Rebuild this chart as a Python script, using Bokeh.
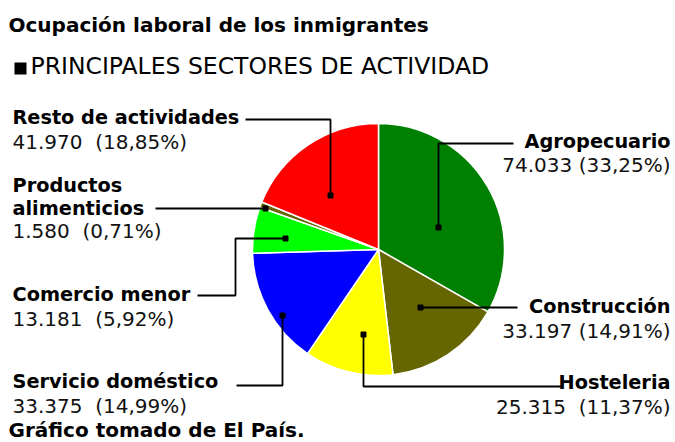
import math
from bokeh.plotting import figure
from bokeh.models import Range1d, ColumnDataSource
from bokeh.core.properties import value
from bokeh.embed import file_html
from bokeh.resources import INLINE

# ---------------- data ----------------
sectors = ["Agropecuario", "Construcción", "Hosteleria", "Servicio doméstico",
           "Comercio menor", "Productos alimenticios", "Resto de actividades"]
workers = [74033, 33197, 25315, 33375, 13181, 1580, 41970]
colors = ["#008000", "#666600", "#FFFF00", "#0000FF", "#00FF00", "#666600", "#FF0000"]

title = "Ocupación laboral de los inmigrantes"
subtitle = "PRINCIPALES SECTORES DE ACTIVIDAD"
source_note = "Gráfico tomado de El País."

# ---------------- layout ----------------
W, H = 675, 442
CX, CY, R = 378, 249, 126
FONT = value("DejaVu Sans")
SHIFT = 8  # svg text baseline compensation


def Y(y):
    return H - y


def TY(y):
    return H - (y - SHIFT)


total = sum(workers)
shares = [w / total for w in workers]
starts, ends = [], []
cum = 0.0
for s in shares:
    starts.append(math.pi / 2 - cum * 2 * math.pi)
    cum += s
    ends.append(math.pi / 2 - cum * 2 * math.pi)


def fmt_num(n):
    return f"{n:,}".replace(",", ".")


def fmt_pct(s):
    return f"{s * 100:.2f}".replace(".", ",") + "%"


NB = "\u00a0"
# label layout: name lines, x, name baselines, align, number baseline, gap, leader path
label_layout = [
    (["Agropecuario"], 670, [149], "right", 172, NB,
     [(513, 143), (438, 143), (438, 227)]),
    (["Construcción"], 670, [314], "right", 338, NB,
     [(517, 307), (420, 307)]),
    (["Hosteleria"], 670, [390], "right", 414, NB + NB,
     [(562, 386), (363, 386), (363, 334)]),
    (["Servicio doméstico"], 12, [389], "left", 413, NB + NB,
     [(236, 385), (282, 385), (282, 315)]),
    (["Comercio menor"], 12, [302], "left", 326, NB + NB,
     [(197, 295), (235, 295), (235, 238), (285, 238)]),
    (["Productos", "alimenticios"], 12, [193, 216], "left", 238, NB + NB,
     [(155, 208), (265, 208)]),
    (["Resto de actividades"], 12, [125], "left", 149, NB + NB,
     [(245, 119), (330, 119), (330, 195)]),
]

p = figure(width=W, height=H, x_range=Range1d(0, W), y_range=Range1d(0, H),
           output_backend="svg", toolbar_location=None,
           x_axis_location=None, y_axis_location=None, min_border=0)
p.outline_line_color = None
p.xgrid.grid_line_color = None
p.ygrid.grid_line_color = None
p.background_fill_color = "white"
p.border_fill_color = "white"

src = ColumnDataSource(dict(start=starts, end=ends, color=colors, sector=sectors))
p.wedge(x=CX, y=Y(CY), radius=R, start_angle="start", end_angle="end",
        direction="clock", fill_color="color", line_color="white",
        line_width=1.5, source=src)

# title / subtitle
p.text(x=[8], y=[TY(32)], text=[title], text_font=FONT, text_font_style="bold",
       text_font_size="20px", text_color="black", text_baseline="alphabetic")
p.quad(left=[14], right=[26], top=[Y(62)], bottom=[Y(74)], fill_color="black",
       line_color=None)
p.text(x=[30], y=[H - (74 - 9)], text=[subtitle], text_font=FONT,
       text_font_size="23.5px", text_color="black", text_baseline="alphabetic")
p.text(x=[8], y=[TY(437)], text=[source_note], text_font=FONT, text_font_style="bold",
       text_font_size="20px", text_color="black", text_baseline="alphabetic")

# labels and leader lines
for i, (lines, lx, bases, align, nbase, gap, path) in enumerate(label_layout):
    for ln, b in zip(lines, bases):
        p.text(x=[lx], y=[TY(b)], text=[ln], text_font=FONT, text_font_style="bold",
               text_font_size="19.3px", text_color="black", text_align=align,
               text_baseline="alphabetic")
    p.text(x=[lx], y=[TY(nbase)],
           text=[fmt_num(workers[i]) + gap + "(" + fmt_pct(shares[i]) + ")"],
           text_font=FONT, text_font_size="20px", text_color="#111111",
           text_align=align, text_baseline="alphabetic")
    xs = [pt[0] for pt in path]
    ys = [Y(pt[1]) for pt in path]
    p.line(xs, ys, line_color="black", line_width=1.8)
    p.scatter([xs[-1]], [ys[-1]], marker="square", size=5, fill_color="black",
              line_color="black")

open("out.html", "w").write(file_html(p, INLINE))
